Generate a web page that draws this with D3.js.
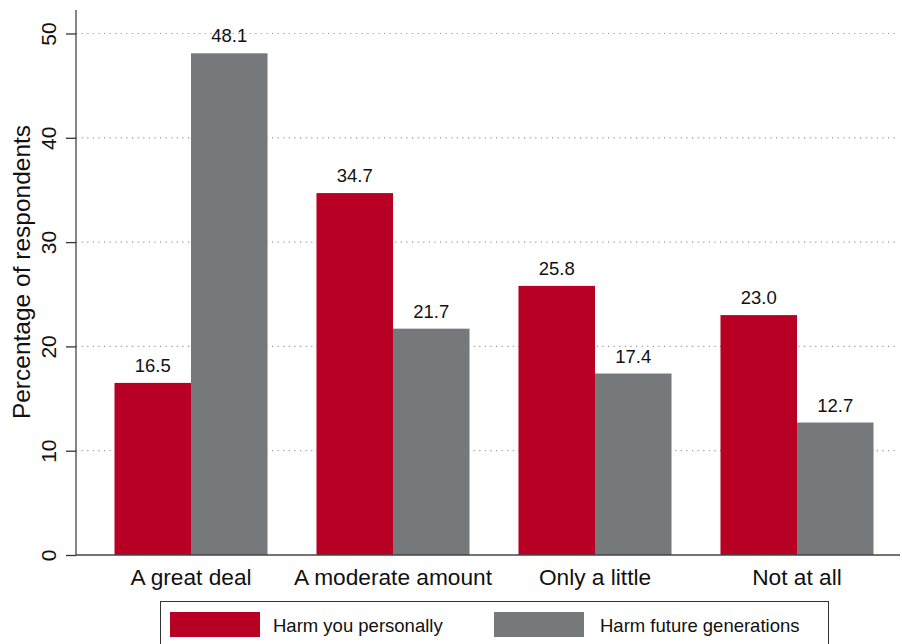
<!DOCTYPE html>
<html><head><meta charset="utf-8">
<script src="https://cdn.jsdelivr.net/npm/d3@7"></script>
<style>body{margin:0;background:#fff}svg{display:block;font-family:"Liberation Sans",Arial,Helvetica,sans-serif}</style>
</head><body><svg id="c" width="902" height="644"></svg>
<script>
const categories = ["A great deal","A moderate amount","Only a little","Not at all"];
const seriesNames = ["Harm you personally","Harm future generations"];
const personal = [16.5, 34.7, 25.8, 23.0];
const future = [48.1, 21.7, 17.4, 12.7];
const yTicks = [0,10,20,30,40,50];
const colors = ["#b70024","#76797c"];

const svg = d3.select("#c");
const y = d3.scaleLinear().domain([0,50]).range([555,33.5]);
const x0 = d3.scaleBand().domain(categories).range([90,898]).padding(0);
const x1 = d3.scaleBand().domain(seriesNames).range([0,x0.bandwidth()]).paddingInner(0).paddingOuter(0.32);
const axisX = 76, right = 900;

// gridlines
svg.append("g").selectAll("line").data(yTicks.filter(d=>d>0)).join("line")
  .attr("x1",axisX).attr("x2",right-2).attr("y1",d=>y(d)).attr("y2",d=>y(d))
  .attr("stroke","#9a9a9a").attr("stroke-width",1.2).attr("stroke-dasharray","1.2,4.4");

const data = categories.map((c,i)=>({cat:c, vals:[personal[i], future[i]]}));
const g = svg.append("g");
data.forEach(d=>{
  d.vals.forEach((v,j)=>{
    const xx = x0(d.cat)+x1(seriesNames[j]);
    g.append("rect").attr("x",xx).attr("width",x1.bandwidth()).attr("y",y(v)).attr("height",y(0)-y(v)).attr("fill",colors[j]);
    g.append("text").attr("x",xx+x1.bandwidth()/2).attr("y",y(v)-11).attr("text-anchor","middle")
      .attr("font-size",18.5).attr("fill","#111").text(v.toFixed(1));
  });
});

// y axis
const ya = svg.append("g").attr("transform",`translate(${axisX},0)`)
  .call(d3.axisLeft(y).tickValues(yTicks).tickSize(10).tickSizeOuter(0).tickFormat(d3.format("d")));
ya.select(".domain").remove();
ya.selectAll(".tick line").attr("stroke","#333").attr("stroke-width",1.3);
ya.selectAll(".tick text").attr("font-size",21).attr("fill","#111")
  .attr("transform","rotate(-90)").attr("x",0).attr("y",-20).attr("dy","0").attr("text-anchor","middle")
  .attr("dominant-baseline","auto");
svg.append("line").attr("x1",axisX).attr("x2",axisX).attr("y1",10).attr("y2",555).attr("stroke","#444").attr("stroke-width",1.3);
svg.append("line").attr("x1",axisX).attr("x2",right).attr("y1",555).attr("y2",555).attr("stroke","#444").attr("stroke-width",1.3);

svg.append("text").attr("transform","translate(30,272) rotate(-90)").attr("text-anchor","middle")
  .attr("font-size",24.5).attr("fill","#111").text("Percentage of respondents");

// x labels
svg.append("g").selectAll("text").data(categories).join("text")
  .attr("x",d=>x0(d)+x0.bandwidth()/2).attr("y",585).attr("text-anchor","middle")
  .attr("font-size",22.7).attr("fill","#111").text(d=>d);

// legend
const lg = svg.append("g");
lg.append("rect").attr("x",160.5).attr("y",601.5).attr("width",668).attr("height",60).attr("fill","none").attr("stroke","#333").attr("stroke-width",1);
const lx = [170, 494], tx = [273, 600];
seriesNames.forEach((s,i)=>{
  lg.append("rect").attr("x",lx[i]).attr("y",612).attr("width",90).attr("height",25).attr("fill",colors[i]);
  lg.append("text").attr("x",tx[i]).attr("y",632).attr("font-size",18.5).attr("fill","#111").text(s);
});
</script></body></html>
